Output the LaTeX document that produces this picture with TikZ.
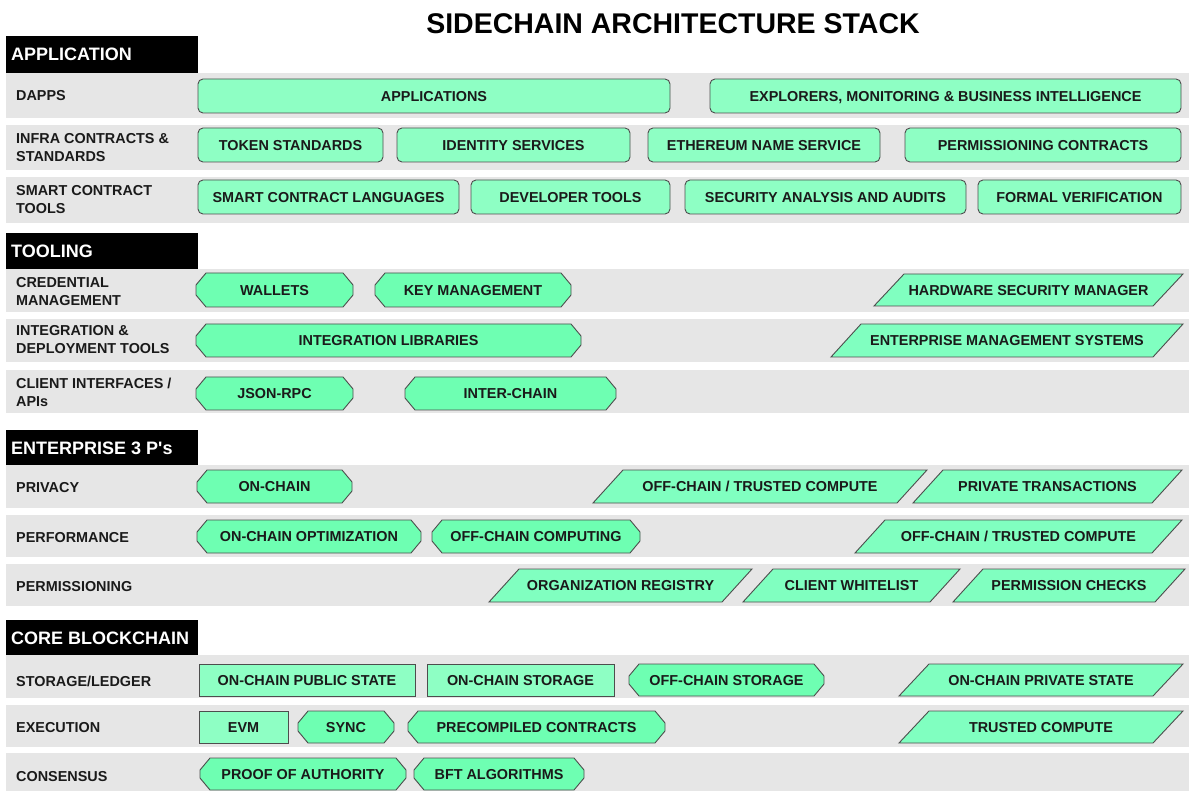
\documentclass[tikz,border=0pt]{standalone}
\usepackage{fontspec}
\setmainfont{Liberation Sans}
\usepackage{tikz}
\usetikzlibrary{positioning}

\definecolor{bandgray}{HTML}{E6E6E6}
\definecolor{edgegray}{HTML}{4D4D4D}
\definecolor{mintround}{HTML}{8EFFC4}
\definecolor{minthex}{HTML}{6EFFB2}
\definecolor{mintslant}{HTML}{80FFC0}
\definecolor{inkblack}{HTML}{1A1A1A}

\tikzset{
  roundstyle/.style={draw=edgegray, fill=mintround, line width=0.9pt, rounded corners=5pt},
  flatstyle/.style={draw=edgegray, fill=mintround, line width=0.9pt},
  hexstyle/.style={draw=edgegray, fill=minthex, line width=0.9pt},
  slantstyle/.style={draw=edgegray, fill=mintslant, line width=0.9pt},
  boxtext/.style={inner sep=0pt, text=inkblack, text height=10.3pt, text depth=0pt,
    font=\bfseries\fontsize{14.4}{17}\selectfont},
  rowtext/.style={inner sep=0pt, anchor=west, align=left, text=inkblack,
    text height=10.3pt, text depth=0pt,
    font=\bfseries\fontsize{14.4}{18}\selectfont},
  headtext/.style={inner sep=0pt, anchor=west, text=white, text height=12.9pt, text depth=0pt,
    font=\bfseries\fontsize{18}{20}\selectfont}
}

% name, x left, x right, y top, y bottom, text
\newcommand{\roundbox}[6]{%
  \draw[roundstyle] (#2,#4) rectangle (#3,#5);
  \node[boxtext] (#1) at ({(#2+#3)/2},{(#4+#5)/2}) {#6};}
\newcommand{\flatbox}[6]{%
  \draw[flatstyle] (#2,#4) rectangle (#3,#5);
  \node[boxtext] (#1) at ({(#2+#3)/2},{(#4+#5)/2}) {#6};}
\newcommand{\hexbox}[6]{%
  \draw[hexstyle] ({#2+10},#4) -- ({#3-10},#4) -- (#3,{#4+12}) -- (#3,{#5-12})
    -- ({#3-10},#5) -- ({#2+10},#5) -- (#2,{#5-12}) -- (#2,{#4+12}) -- cycle;
  \node[boxtext] (#1) at ({(#2+#3)/2},{(#4+#5)/2}) {#6};}
\newcommand{\slantbox}[6]{%
  \draw[slantstyle] (#2,#5) -- ({#2+30},#4) -- (#3,#4) -- ({#3-30},#5) -- cycle;
  \node[boxtext] (#1) at ({(#2+#3)/2},{(#4+#5)/2}) {#6};}

\begin{document}
\begin{tikzpicture}[x=1pt,y=-1pt]
  \useasboundingbox (0,0) rectangle (1189,791);

  \node[font=\bfseries\fontsize{28.5}{34}\selectfont, text=black, inner sep=0pt]
    (title) at (673,24) {SIDECHAIN ARCHITECTURE STACK};

  % layer headers
  \foreach \ytop/\head [count=\i] in {36/APPLICATION, 233/TOOLING,
      430/{ENTERPRISE 3 P\textquotesingle s}, 620/{CORE BLOCKCHAIN}} {
    \fill[black] (6,\ytop) rectangle (198,{\ytop+37});
    \node[headtext] (head\i) at (11,{\ytop+18.5}) {\head};
  }

  % row bands with their labels
  \foreach \ytop/\ybot/\ylab/\lab [count=\i] in {
      73/118/95/DAPPS, 125/170/156.5/{INFRA CONTRACTS \&\\STANDARDS},
      177/223/208.5/{SMART CONTRACT\\TOOLS}, 269/312/300/{CREDENTIAL\\MANAGEMENT},
      319/362/348.5/{INTEGRATION \&\\DEPLOYMENT TOOLS}, 370/413/401/{CLIENT INTERFACES /\\APIs},
      465/508/487/PRIVACY, 515/557/537/PERFORMANCE, 564/606/586/PERMISSIONING,
      655/698/681/{STORAGE/LEDGER}, 705/747/727/EXECUTION, 753/791/776/CONSENSUS} {
    \fill[bandgray] (6,\ytop) rectangle (1189,\ybot);
    \node[rowtext] (row\i) at (16,\ylab) {\lab};
  }

  % application
  \roundbox{apps}{198}{670}{79}{113}{APPLICATIONS}
  \roundbox{explorers}{710}{1181}{79}{113}{EXPLORERS, MONITORING \& BUSINESS INTELLIGENCE}
  \roundbox{token}{198}{383}{128}{162}{TOKEN STANDARDS}
  \roundbox{identity}{397}{630}{128}{162}{IDENTITY SERVICES}
  \roundbox{ens}{648}{880}{128}{162}{ETHEREUM NAME SERVICE}
  \roundbox{permcontracts}{905}{1181}{128}{162}{PERMISSIONING CONTRACTS}
  \roundbox{sclang}{198}{459}{180}{214}{SMART CONTRACT LANGUAGES}
  \roundbox{devtools}{471}{670}{180}{214}{DEVELOPER TOOLS}
  \roundbox{audits}{685}{966}{180}{214}{SECURITY ANALYSIS AND AUDITS}
  \roundbox{formal}{978}{1181}{180}{214}{FORMAL VERIFICATION}

  % tooling
  \hexbox{wallets}{196}{353}{273}{307}{WALLETS}
  \hexbox{keymgmt}{375}{571}{273}{307}{KEY MANAGEMENT}
  \slantbox{hsm}{874}{1183}{274}{306}{HARDWARE SECURITY MANAGER}
  \hexbox{intlib}{196}{581}{324}{357}{INTEGRATION LIBRARIES}
  \slantbox{ems}{831}{1183}{324}{357}{ENTERPRISE MANAGEMENT SYSTEMS}
  \hexbox{jsonrpc}{196}{353}{377}{410}{JSON-RPC}
  \hexbox{interchain}{405}{616}{377}{410}{INTER-CHAIN}

  % enterprise 3 P's
  \hexbox{onchain}{197}{352}{470}{503}{ON-CHAIN}
  \slantbox{trustedA}{593}{927}{470}{503}{OFF-CHAIN / TRUSTED COMPUTE}
  \slantbox{privtx}{913}{1182}{470}{503}{PRIVATE TRANSACTIONS}
  \hexbox{onchainopt}{197}{421}{520}{553}{ON-CHAIN OPTIMIZATION}
  \hexbox{offcomp}{432}{640}{520}{553}{OFF-CHAIN COMPUTING}
  \slantbox{trustedB}{855}{1182}{520}{553}{OFF-CHAIN / TRUSTED COMPUTE}
  \slantbox{orgreg}{489}{752}{569}{602}{ORGANIZATION REGISTRY}
  \slantbox{whitelist}{743}{960}{569}{602}{CLIENT WHITELIST}
  \slantbox{permchecks}{953}{1185}{569}{602}{PERMISSION CHECKS}

  % core blockchain
  \flatbox{pubstate}{199}{415}{664}{696}{ON-CHAIN PUBLIC STATE}
  \flatbox{onstore}{427}{614}{664}{696}{ON-CHAIN STORAGE}
  \hexbox{offstore}{629}{824}{664}{696}{OFF-CHAIN STORAGE}
  \slantbox{privstate}{899}{1183}{664}{696}{ON-CHAIN PRIVATE STATE}
  \flatbox{evm}{199}{288}{711}{743}{EVM}
  \hexbox{sync}{298}{394}{711}{743}{SYNC}
  \hexbox{precomp}{408}{665}{711}{743}{PRECOMPILED CONTRACTS}
  \slantbox{trustedC}{899}{1183}{711}{743}{TRUSTED COMPUTE}
  \hexbox{poa}{200}{406}{758}{790}{PROOF OF AUTHORITY}
  \hexbox{bft}{414}{584}{758}{790}{BFT ALGORITHMS}
\end{tikzpicture}
\end{document}
